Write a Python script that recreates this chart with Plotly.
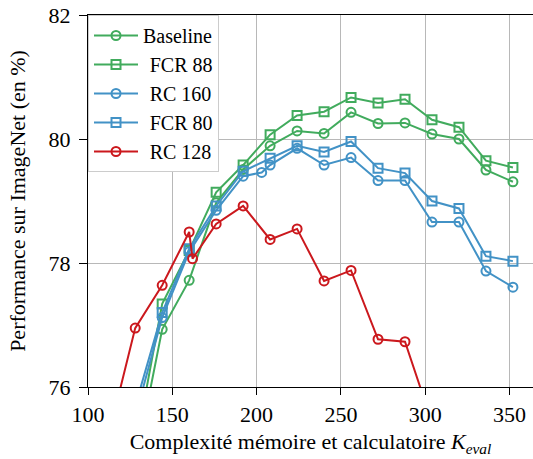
import plotly.graph_objects as go

# ---- data ----
x_common = [128, 144, 160, 176, 192, 208, 224, 240, 256, 272, 288, 304, 320, 336, 352]
baseline = [74.74, 76.93, 77.72, 78.97, 79.51, 79.89, 80.13, 80.09, 80.43, 80.25, 80.26, 80.08, 80.00, 79.50, 79.31]
fcr88 = [74.99, 77.34, 78.20, 79.14, 79.58, 80.07, 80.38, 80.44, 80.67, 80.58, 80.64, 80.31, 80.19, 79.65, 79.54]

x_rc160 = [128, 144, 160, 176, 192, 203, 208, 224, 240, 256, 272, 288, 304, 320, 336, 352]
rc160 = [75.52, 77.12, 78.18, 78.85, 79.40, 79.46, 79.58, 79.85, 79.58, 79.70, 79.33, 79.33, 78.66, 78.66, 77.87, 77.61]

fcr80 = [75.69, 77.20, 78.23, 78.92, 79.48, 79.69, 79.89, 79.79, 79.96, 79.53, 79.45, 79.00, 78.88, 78.11, 78.03]

x_rc128 = [112, 128, 144, 160, 162, 176, 192, 208, 224, 240, 256, 272, 288, 304]
rc128 = [75.19, 76.95, 77.64, 78.50, 78.07, 78.63, 78.92, 78.38, 78.55, 77.71, 77.88, 76.77, 76.73, 75.43]

x_ticks = [100, 150, 200, 250, 300, 350]
y_ticks = [76, 78, 80, 82]

GREEN = "#41ab5d"
BLUE = "#4292c6"
RED = "#cb181d"
FONT = "Liberation Serif"
PAD = "\u00a0\u200a"

series = [
    ("Baseline", x_common, baseline, GREEN, "circle-open"),
    (PAD + "FCR 88", x_common, fcr88, GREEN, "square-open"),
    (PAD + "RC 160", x_rc160, rc160, BLUE, "circle-open"),
    (PAD + "FCR 80", x_common, fcr80, BLUE, "square-open"),
    (PAD + "RC 128", x_rc128, rc128, RED, "circle-open"),
]

fig = go.Figure()
for name, xs, ys, col, sym in series:
    fig.add_trace(go.Scatter(
        x=xs, y=ys, name=name, mode="lines+markers",
        line=dict(color=col, width=2),
        marker=dict(symbol=sym, size=9, color=col, line=dict(color=col, width=2)),
    ))

fig.update_layout(
    width=533, height=459,
    margin=dict(l=88, r=0, t=15, b=72),
    paper_bgcolor="white", plot_bgcolor="white",
    font=dict(family=FONT, size=22, color="black"),
    showlegend=True,
    legend=dict(
        x=0, y=1, xanchor="left", yanchor="top",
        bgcolor="white", bordercolor="#cccccc", borderwidth=1,
        font=dict(family=FONT, size=20, color="black"),
        itemwidth=44,
    ),
    xaxis=dict(
        range=[100, 363.9], tickvals=x_ticks, ticks="outside", ticklen=7,
        tickcolor="black", showline=True, linecolor="black", linewidth=1.2,
        mirror=True, showgrid=True, gridcolor="#b8b8b8", gridwidth=1,
        zeroline=False, automargin=False, tickfont=dict(family=FONT, size=22),
        ticklabeloverflow="allow",
        title=dict(text="Complexité mémoire et calculatoire <i>K<sub>eval</sub></i>",
                   font=dict(family=FONT, size=22), standoff=8),
    ),
    yaxis=dict(
        range=[76, 82], tickvals=y_ticks, ticks="outside", ticklen=8,
        tickcolor="black", showline=True, linecolor="black", linewidth=1.2,
        showgrid=True, gridcolor="#b8b8b8", gridwidth=1,
        zeroline=False, automargin=False, tickfont=dict(family=FONT, size=22),
        ticklabelstandoff=4, ticklabeloverflow="allow",
        title=dict(text="Performance sur ImageNet (en %)",
                   font=dict(family=FONT, size=22), standoff=16),
    ),
)

# remove the default 8px page margin so the figure fills the window exactly
fig.write_html("out.html", config={"displayModeBar": False},
               post_script="document.body.style.margin='0';")
